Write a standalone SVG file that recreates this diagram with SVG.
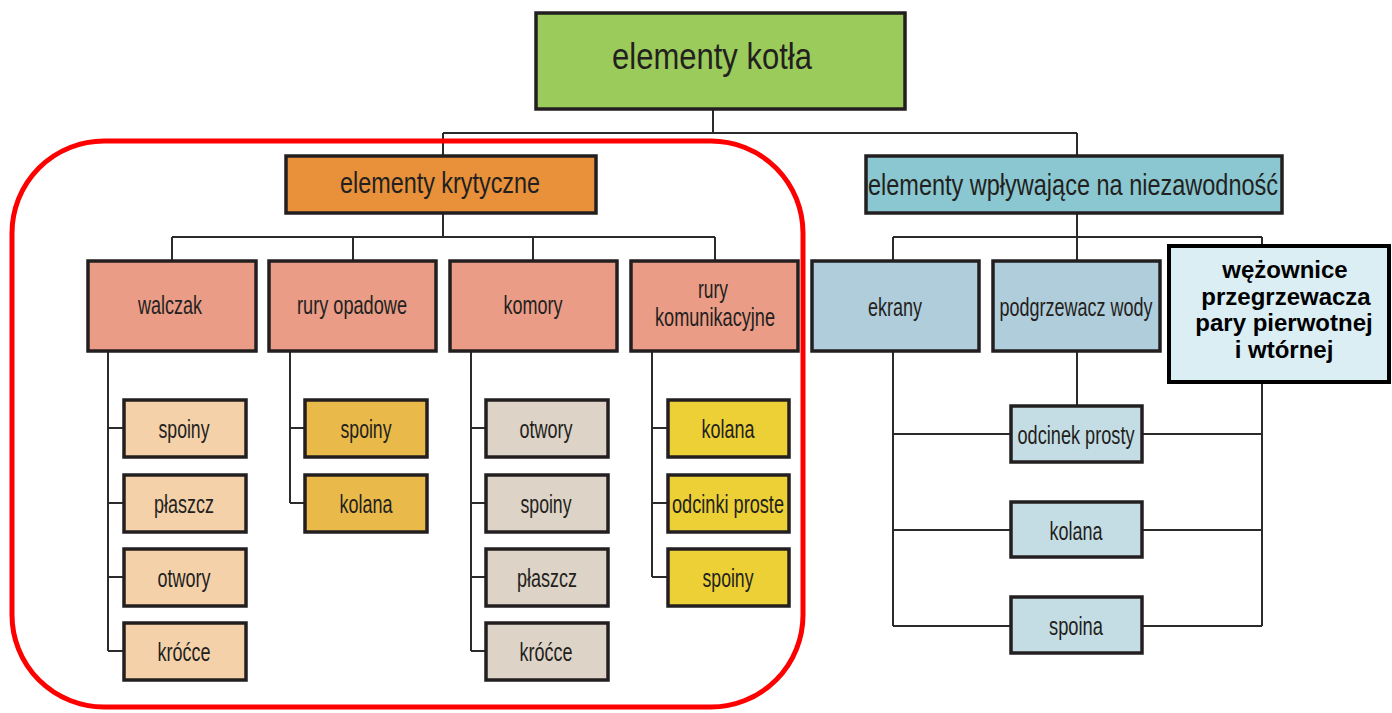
<svg xmlns="http://www.w3.org/2000/svg" width="1392" height="713" viewBox="0 0 1392 713">
<style>
.b{stroke:#231f20;stroke-width:3.5}
.t{font-family:"Liberation Sans",Arial,sans-serif;fill:#231f20;text-anchor:middle}
.s{font-size:25px}
.c{fill:none;stroke:#2b2b2b;stroke-width:2}
.green{fill:#9bcb5b}.orange{fill:#e8913a}.teal{fill:#8ac7d1}.salmon{fill:#ea9c86}
.peach{fill:#f4d1a9}.gold{fill:#e9ba49}.beige{fill:#ddd3c6}.yellow{fill:#ecd036}
.blue{fill:#b0cddb}.lblue{fill:#c4dde4}
.w{font-family:"Liberation Sans",Arial,sans-serif;font-size:24px;font-weight:bold;fill:#000;text-anchor:middle}
</style>
<rect width="1392" height="713" fill="#ffffff"/>
<g id="connectors" class="c">
<path d="M713 110V133M443 133H1077M443 133V155M1077 133V155"/>
<path d="M443 213V237M172 237H715M172 237V260M353 237V260M533 237V260M715 237V260"/>
<path d="M108 351V651M108 428H123M108 503H123M108 577H123M108 651H123"/>
<path d="M290 351V503M290 428H304M290 503H304"/>
<path d="M471 351V651M471 428H485M471 503H485M471 577H485M471 651H485"/>
<path d="M652 351V577M652 428H667M652 503H667M652 577H667"/>
<path d="M1077 213V260M893 237H1262M893 237V260M1262 237V245"/>
<path d="M893 351V626M1077 351V405M1262 383V626"/>
<path d="M893 434H1010M1142 434H1262M893 530H1010M1142 530H1262M893 626H1010M1142 626H1262"/>
</g>
<g id="n-root"><rect class="b green" x="536" y="13" width="369" height="96"/><text class="t" x="712" y="69" font-size="37" textLength="200" lengthAdjust="spacingAndGlyphs">elementy kotła</text></g>
<g id="n-kryt"><rect class="b orange" x="286" y="156" width="310" height="57"/><text class="t" x="440" y="193" font-size="30" textLength="200" lengthAdjust="spacingAndGlyphs">elementy krytyczne</text></g>
<g id="n-niez"><rect class="b teal" x="866" y="156" width="416" height="57"/><text class="t" x="1073" y="195" font-size="30" textLength="410" lengthAdjust="spacingAndGlyphs">elementy wpływające na niezawodność</text></g>
<g id="n-walczak"><rect class="b salmon" x="88" y="261" width="168" height="90"/><text class="t s" x="170" y="314" textLength="64" lengthAdjust="spacingAndGlyphs">walczak</text></g>
<g id="n-opadowe"><rect class="b salmon" x="269" y="261" width="167" height="90"/><text class="t s" x="352" y="314" textLength="110" lengthAdjust="spacingAndGlyphs">rury opadowe</text></g>
<g id="n-komory"><rect class="b salmon" x="450" y="261" width="167" height="90"/><text class="t s" x="533" y="314" textLength="59" lengthAdjust="spacingAndGlyphs">komory</text></g>
<g id="n-komunik"><rect class="b salmon" x="631" y="261" width="167" height="90"/><text class="t s" x="713" y="298" textLength="30" lengthAdjust="spacingAndGlyphs">rury</text><text class="t s" x="715" y="326" textLength="120" lengthAdjust="spacingAndGlyphs">komunikacyjne</text></g>
<g id="n-ekrany"><rect class="b blue" x="812" y="261" width="167" height="90"/><text class="t s" x="895" y="316" textLength="54" lengthAdjust="spacingAndGlyphs">ekrany</text></g>
<g id="n-podgrz"><rect class="b blue" x="993" y="261" width="167" height="90"/><text class="t s" x="1076" y="316" textLength="153" lengthAdjust="spacingAndGlyphs">podgrzewacz wody</text></g>
<g id="n-wezow"><rect x="1169" y="246" width="220" height="136" fill="#dbeef4" stroke="#000" stroke-width="4"/>
<text class="w" x="1285" y="278">wężownice</text>
<text class="w" x="1286" y="305">przegrzewacza</text>
<text class="w" x="1284" y="331">pary pierwotnej</text>
<text class="w" x="1284" y="358">i wtórnej</text></g>
<g id="n-w1"><rect class="b peach" x="124" y="400" width="122" height="57"/><text class="t s" x="184" y="438" textLength="51" lengthAdjust="spacingAndGlyphs">spoiny</text></g>
<g id="n-w2"><rect class="b peach" x="124" y="475" width="122" height="57"/><text class="t s" x="184" y="513" textLength="60" lengthAdjust="spacingAndGlyphs">płaszcz</text></g>
<g id="n-w3"><rect class="b peach" x="124" y="549" width="122" height="57"/><text class="t s" x="184" y="587" textLength="53" lengthAdjust="spacingAndGlyphs">otwory</text></g>
<g id="n-w4"><rect class="b peach" x="124" y="623" width="122" height="57"/><text class="t s" x="184" y="661" textLength="53" lengthAdjust="spacingAndGlyphs">króćce</text></g>
<g id="n-o1"><rect class="b gold" x="305" y="400" width="122" height="57"/><text class="t s" x="366" y="438" textLength="51" lengthAdjust="spacingAndGlyphs">spoiny</text></g>
<g id="n-o2"><rect class="b gold" x="305" y="475" width="122" height="57"/><text class="t s" x="366" y="513" textLength="53" lengthAdjust="spacingAndGlyphs">kolana</text></g>
<g id="n-k1"><rect class="b beige" x="486" y="400" width="122" height="57"/><text class="t s" x="546" y="438" textLength="53" lengthAdjust="spacingAndGlyphs">otwory</text></g>
<g id="n-k2"><rect class="b beige" x="486" y="475" width="122" height="57"/><text class="t s" x="546" y="513" textLength="51" lengthAdjust="spacingAndGlyphs">spoiny</text></g>
<g id="n-k3"><rect class="b beige" x="486" y="549" width="122" height="57"/><text class="t s" x="547" y="587" textLength="60" lengthAdjust="spacingAndGlyphs">płaszcz</text></g>
<g id="n-k4"><rect class="b beige" x="486" y="623" width="122" height="57"/><text class="t s" x="546" y="661" textLength="53" lengthAdjust="spacingAndGlyphs">króćce</text></g>
<g id="n-r1"><rect class="b yellow" x="668" y="400" width="121" height="57"/><text class="t s" x="728" y="438" textLength="53" lengthAdjust="spacingAndGlyphs">kolana</text></g>
<g id="n-r2"><rect class="b yellow" x="668" y="475" width="121" height="57"/><text class="t s" x="728" y="513" textLength="112" lengthAdjust="spacingAndGlyphs">odcinki proste</text></g>
<g id="n-r3"><rect class="b yellow" x="668" y="549" width="121" height="57"/><text class="t s" x="728" y="587" textLength="51" lengthAdjust="spacingAndGlyphs">spoiny</text></g>
<g id="n-e1"><rect class="b lblue" x="1011" y="406" width="131" height="56"/><text class="t s" x="1076" y="444" textLength="117" lengthAdjust="spacingAndGlyphs">odcinek prosty</text></g>
<g id="n-e2"><rect class="b lblue" x="1011" y="502" width="131" height="55"/><text class="t s" x="1076" y="540" textLength="53" lengthAdjust="spacingAndGlyphs">kolana</text></g>
<g id="n-e3"><rect class="b lblue" x="1011" y="597" width="131" height="56"/><text class="t s" x="1076" y="635" textLength="54" lengthAdjust="spacingAndGlyphs">spoina</text></g>
<rect id="highlight" x="12" y="141" width="791" height="566" rx="92" ry="92" fill="none" stroke="#ff0000" stroke-width="5"/>
</svg>
